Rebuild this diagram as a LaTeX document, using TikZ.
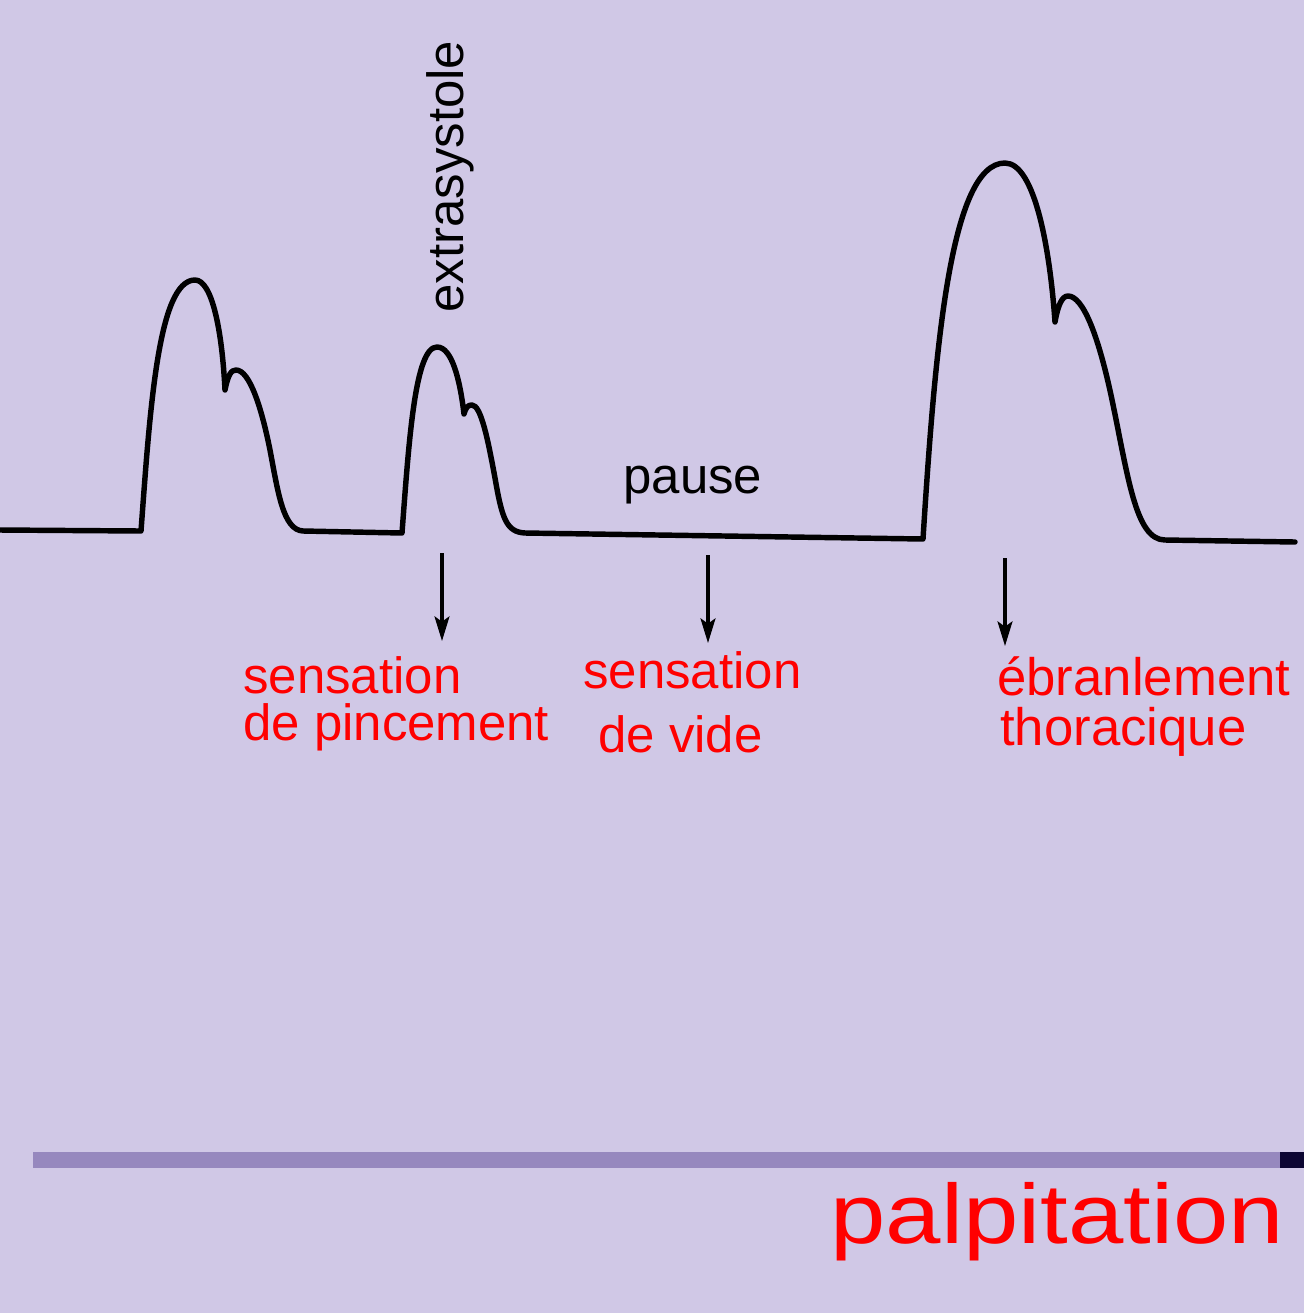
\documentclass[tikz,border=0pt]{standalone}
\usepackage{fontspec}
\setmainfont{Liberation Sans}
\usetikzlibrary{arrows.meta}
\colorlet{paper}{rgb,255:red,208;green,200;blue,230}
\colorlet{barviolet}{rgb,255:red,150;green,136;blue,190}
\colorlet{barnavy}{rgb,255:red,12;green,6;blue,50}
\colorlet{rdx}{rgb,255:red,255;green,0;blue,0}

\begin{document}
\begin{tikzpicture}[
            x=0.02cm, y=-0.02cm,
            wave/.style={line width=3.1pt, line join=round, line cap=round},
            feel/.style={-{Stealth[length=14pt,width=8.5pt,inset=3pt]}, line width=1.8pt},
            redlbl/.style={rdx, font=\fontsize{30}{32}\selectfont, anchor=base west, inner sep=0pt, align=left},
            blacklbl/.style={font=\fontsize{29}{31}\selectfont, anchor=base west, inner sep=0pt}
        ]
            % background and frame
            \fill [paper] (0,0) rectangle (1304,1313);
            \useasboundingbox (0,0) rectangle (1304,1313);

            % pressure trace: normal beat, extrasystole, pause, post-pause beat
            \draw [wave] (0,530) -- (141,531)
                .. controls (150,410) and (158,280) .. (195,280)
                .. controls (212,280) and (222,330) .. (225,390)
                .. controls (228,375) and (231,370) .. (236,370)
                .. controls (250,370) and (262,410) .. (270,450)
                .. controls (278,492) and (283,530) .. (303,531)
                -- (402,533)
                .. controls (409,440) and (415,347) .. (437,347)
                .. controls (452,347) and (460,380) .. (464,414)
                .. controls (466,407) and (468,405) .. (472,405)
                .. controls (481,405) and (488,440) .. (495,478)
                .. controls (502,518) and (506,532) .. (525,533)
                -- (923,539)
                .. controls (935,350) and (950,163) .. (1005,163)
                .. controls (1035,163) and (1050,250) .. (1055,322)
                .. controls (1058,305) and (1062,296) .. (1068,296)
                .. controls (1083,296) and (1098,335) .. (1111,395)
                .. controls (1128,475) and (1135,540) .. (1165,540)
                -- (1295,542);

            \node [blacklbl, rotate=90] (extra) at (463,313) {extrasystole};
            \node [blacklbl] (pause) at (623,493) {pause};

            % arrows down to the felt sensations
            \coordinate (pinchtop) at (442,553);
            \coordinate (pinchtip) at (442,641);
            \coordinate (voidtop)  at (708,555);
            \coordinate (voidtip)  at (708,643);
            \coordinate (shaketop) at (1005,558);
            \coordinate (shaketip) at (1005,646);
            \foreach \a in {pinch,void,shake} {
                \draw [feel] (\a top) -- (\a tip);
            }

            % base anchor sits on the last line
            \node [redlbl, font=\fontsize{29}{26.6}\selectfont] (pinch) at (243,740) {sensation\\de pincement};
            \node [redlbl, font=\fontsize{29}{36.3}\selectfont] (void) at (583,752) {sensation\\\hspace*{8.5pt}de vide};
            \node [redlbl, font=\fontsize{30}{28.3}\selectfont] (shake) at (997,745) {ébranlement\\\hspace*{1.7pt}thoracique};

            % title bar
            \fill [barviolet] (33,1152) rectangle (1280,1168);
            \fill [barnavy] (1280,1152) rectangle (1304,1168);
            \node [redlbl, font=\fontsize{48}{50}\selectfont, xscale=1.18] (title) at (830,1243) {palpitation};
        \end{tikzpicture}
\end{document}
